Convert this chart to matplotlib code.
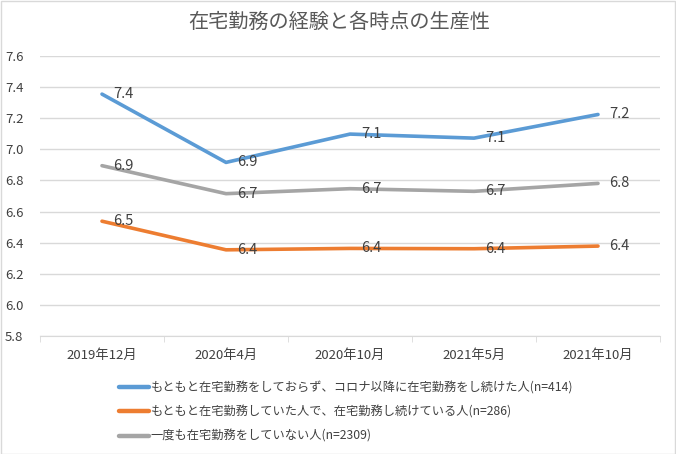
import matplotlib.pyplot as plt
from matplotlib.patches import Rectangle
from matplotlib.ticker import FixedLocator, NullFormatter

plt.rcParams['font.family'] = ['Noto Sans CJK JP', 'DejaVu Sans']

title = '在宅勤務の経験と各時点の生産性'
periods = ['2019年12月', '2020年4月', '2020年10月', '2021年5月', '2021年10月']

blue_label = 'もともと在宅勤務をしておらず、コロナ以降に在宅勤務をし続けた人(n=414)'
orange_label = 'もともと在宅勤務していた人で、在宅勤務し続けている人(n=286)'
gray_label = '一度も在宅勤務をしていない人(n=2309)'

blue_vals = [7.355, 6.916, 7.098, 7.072, 7.224]
orange_vals = [6.538, 6.354, 6.363, 6.361, 6.378]
gray_vals = [6.895, 6.715, 6.747, 6.730, 6.781]

series = [
    (blue_label, blue_vals, '#5B9BD5'),
    (orange_label, orange_vals, '#ED7D31'),
    (gray_label, gray_vals, '#A5A5A5'),
]

W, H = 676, 454
fig = plt.figure(figsize=(W / 100, H / 100), dpi=100)
ax = fig.add_axes([40 / W, (H - 336) / H, 620 / W, 280 / H])

x = list(range(len(periods)))
for label, vals, color in series:
    ax.plot(x, vals, color=color, lw=2.6, solid_capstyle='round',
            solid_joinstyle='round', label=label)
    for xi, v in zip(x, vals):
        ax.annotate(f'{v:.1f}', (xi, v), xytext=(8, 0), textcoords='offset points',
                    ha='left', va='center', fontsize=10.5, color='#404040')

ax.set_xlim(-0.5, len(periods) - 0.5)
ax.set_ylim(5.8, 7.6)
ax.set_yticks([5.8 + 0.2 * i for i in range(10)])
ax.set_yticklabels([f'{5.8 + 0.2 * i:.1f}' for i in range(10)])
ax.grid(axis='y', color='#D9D9D9', lw=1)
ax.set_axisbelow(True)
for s in ['top', 'right', 'left']:
    ax.spines[s].set_visible(False)
ax.spines['bottom'].set_color('#D9D9D9')

ax.set_xticks(x)
ax.set_xticklabels(periods)
ax.xaxis.set_minor_locator(FixedLocator([i - 0.5 for i in range(len(periods) + 1)]))
ax.xaxis.set_minor_formatter(NullFormatter())
ax.tick_params(axis='x', which='major', length=0, pad=9, labelsize=9.5, labelcolor='#404040')
ax.tick_params(axis='x', which='minor', length=4, color='#D9D9D9')
ax.tick_params(axis='y', length=0, pad=12, labelsize=9.5, labelcolor='#404040')

fig.text(339 / W, 1 - 22 / H, title, ha='center', va='center', fontsize=14.5, color='#595959')

leg = fig.legend(loc='upper left', bbox_to_anchor=(113 / W, 1 - 375 / H), frameon=False,
                 fontsize=8.8, handlelength=2.45, handletextpad=0.15, labelspacing=0.92,
                 borderpad=0, labelcolor='#404040')
for line in leg.get_lines():
    line.set_linewidth(3.2)

fig.patches.append(Rectangle((0.5 / W, 0.5 / H), 1 - 1.5 / W, 1 - 1 / H, transform=fig.transFigure,
                             fill=False, edgecolor='#D9D9D9', lw=1))

fig.savefig('out.png', dpi=100)
